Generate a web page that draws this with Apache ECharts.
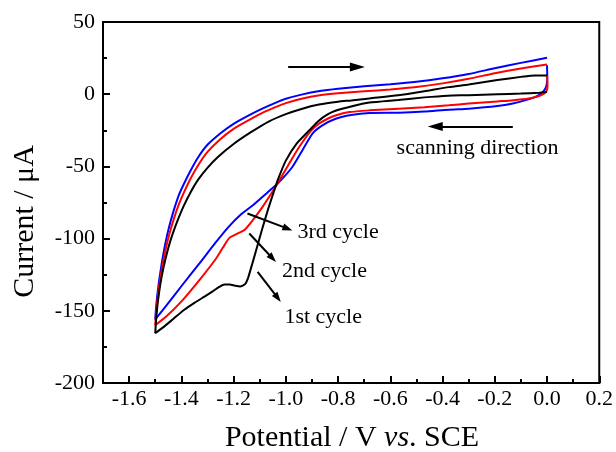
<!DOCTYPE html>
<html>
<head>
<meta charset="utf-8">
<script src="https://cdn.jsdelivr.net/npm/echarts@6/dist/echarts.min.js"></script>
<style>html,body{margin:0;padding:0;background:#fff}#c{width:616px;height:452px}</style>
</head>
<body>
<div id="c"></div>
<script>
// Potential (V vs. SCE), current (uA) pairs
const cycle1Cathodic = [[0,1.5],[-0.03,1],[-0.1,0.4],[-0.19,0],[-0.3,-0.7],[-0.38,-1],[-0.47,-2.2],[-0.57,-4],[-0.68,-5.8],[-0.75,-8.5],[-0.81,-11.5],[-0.84,-14],[-0.875,-18.5],[-0.91,-25],[-0.96,-34.5],[-1.0,-46],[-1.03,-59],[-1.045,-67],[-1.065,-78],[-1.09,-93],[-1.115,-109],[-1.135,-121.5],[-1.145,-127.5],[-1.156,-131.5],[-1.175,-133.2],[-1.195,-132.6],[-1.215,-131.8],[-1.235,-131.8],[-1.255,-133.5],[-1.28,-136.5],[-1.31,-140],[-1.35,-144.5],[-1.39,-149.5],[-1.43,-155.5],[-1.47,-161.5],[-1.5,-165.5]];
const cycle1Anodic = [[-1.5,-165.5],[-1.497,-157],[-1.492,-147],[-1.485,-137],[-1.475,-126],[-1.462,-115],[-1.447,-104.5],[-1.43,-95],[-1.41,-85.5],[-1.39,-77],[-1.365,-68],[-1.335,-59],[-1.30,-51],[-1.26,-43.5],[-1.2,-34.5],[-1.135,-26.5],[-1.064,-18.8],[-1.0,-13.8],[-0.94,-10.2],[-0.873,-7.2],[-0.8,-5.2],[-0.75,-4.3],[-0.68,-2.9],[-0.57,-0.8],[-0.47,2],[-0.376,4.9],[-0.3,6.7],[-0.19,9.8],[-0.1,12],[-0.045,13],[0,13]];
const cycle2Cathodic = [[0,13],[0.002,7],[0,3],[-0.01,0.5],[-0.03,-1.2],[-0.07,-3],[-0.135,-4.3],[-0.19,-5],[-0.3,-6.5],[-0.376,-7.7],[-0.47,-9],[-0.568,-10],[-0.68,-11.2],[-0.757,-12.4],[-0.81,-14.7],[-0.84,-17],[-0.873,-20.4],[-0.905,-25.5],[-0.949,-36.6],[-0.987,-48],[-1.032,-62],[-1.06,-70],[-1.089,-78],[-1.127,-87.3],[-1.16,-94.3],[-1.185,-96.5],[-1.216,-99.5],[-1.24,-106],[-1.267,-113.8],[-1.331,-128.8],[-1.395,-142.6],[-1.458,-154],[-1.5,-160]];
const cycle2Anodic = [[-1.5,-160],[-1.497,-152],[-1.492,-143],[-1.485,-133],[-1.475,-121.5],[-1.462,-109],[-1.447,-97.5],[-1.43,-87],[-1.41,-76.5],[-1.39,-68],[-1.365,-58.5],[-1.335,-49],[-1.30,-40],[-1.25,-31],[-1.2,-24],[-1.14,-17.8],[-1.09,-13],[-1.04,-9],[-1.0,-6.2],[-0.94,-3.2],[-0.87,-0.8],[-0.8,0.6],[-0.7,2],[-0.6,3.3],[-0.5,5],[-0.4,7.5],[-0.3,10.7],[-0.2,14.5],[-0.1,17.8],[0,20.6]];
const cycle3Cathodic = [[0,20],[0.001,12],[-0.001,7],[-0.008,3.5],[-0.02,1],[-0.04,-1.5],[-0.071,-3.6],[-0.135,-6.6],[-0.19,-8.2],[-0.3,-10],[-0.376,-10.7],[-0.47,-12],[-0.568,-12.8],[-0.68,-13],[-0.75,-14.4],[-0.809,-17],[-0.86,-21.6],[-0.898,-27.3],[-0.937,-39],[-0.975,-50.4],[-1.032,-62],[-1.07,-68],[-1.12,-76],[-1.17,-83],[-1.22,-92],[-1.27,-103],[-1.33,-117],[-1.40,-133],[-1.46,-147],[-1.5,-156]];
const cycle3Anodic = [[-1.5,-156],[-1.497,-148],[-1.492,-139],[-1.485,-129],[-1.475,-117],[-1.462,-104],[-1.447,-92],[-1.43,-81],[-1.41,-70],[-1.39,-62],[-1.365,-53],[-1.335,-43.5],[-1.30,-35],[-1.25,-27],[-1.2,-20.5],[-1.14,-14.5],[-1.09,-10],[-1.04,-6],[-1.0,-3.2],[-0.94,-0.3],[-0.87,2.2],[-0.8,3.8],[-0.7,5.5],[-0.6,6.9],[-0.5,8.6],[-0.4,11],[-0.3,14],[-0.2,18],[-0.1,21.7],[0,25.2]];

const xMajorTicks = [-1.6,-1.4,-1.2,-1.0,-0.8,-0.6,-0.4,-0.2,0.0,0.2];
const xMinorTicks = [-1.7,-1.5,-1.3,-1.1,-0.9,-0.7,-0.5,-0.3,-0.1,0.1];
const seriesNames = ['1st cycle','2nd cycle','3rd cycle'];
const seriesColors = ['#000000','#ff0000','#0000ff'];

// annotations: [x, y, text]
const textNotes = [[-0.266,-37.6,'scanning direction'],[-0.80,-95.4,'3rd cycle'],[-0.852,-122.3,'2nd cycle'],[-0.857,-154.1,'1st cycle']];
// arrows: [x0, y0, x1, y1]
const bigArrows = [[-0.991,18.9,-0.726,18.9],[-0.131,-22.3,-0.428,-22.3]];
const smallArrows = [[-1.147,-82.6,-0.993,-93.1],[-1.140,-96.5,-1.051,-113.6],[-1.108,-123,-1.031,-141.1]];

const FONT = 'Liberation Serif, Times New Roman, serif';
const chart = echarts.init(document.getElementById('c'), null, {renderer:'canvas'});

const loops = [cycle1Cathodic.concat(cycle1Anodic.slice(1)), cycle2Cathodic.concat(cycle2Anodic.slice(1)), cycle3Cathodic.concat(cycle3Anodic.slice(1))];

const series = loops.map((d,i)=>({
  name: seriesNames[i], type:'line', data:d, showSymbol:false, smooth:0.2,
  lineStyle:{color:seriesColors[i], width:2}, itemStyle:{color:seriesColors[i]},
  z: 5 - i, animation:false
}));

series.push({
  type:'line', data:[], xAxisIndex:0, yAxisIndex:0, silent:true, animation:false,
  markLine:{
    silent:true, animation:false,
    label:{show:false},
    lineStyle:{color:'#000', width:2, type:'solid'},
    data: bigArrows.map(a=>[
      {coord:[a[0],a[1]], symbol:'none'},
      {coord:[a[2],a[3]], symbol:'triangle', symbolSize:[9,15]}
    ]).concat(smallArrows.map(a=>[
      {coord:[a[0],a[1]], symbol:'none'},
      {coord:[a[2],a[3]], symbol:'triangle', symbolSize:[7,10]}
    ]))
  },
  markPoint:{
    silent:true, animation:false, symbol:'circle', symbolSize:0,
    label:{show:true, position:'inside', color:'#000', fontFamily:FONT, fontSize:22, formatter:'{b}'},
    data: textNotes.map(t=>({coord:[t[0],t[1]], name:t[2], value:0}))
  }
});

chart.setOption({
  backgroundColor:'#fff',
  animation:false,
  grid:{left:103, right:15, top:22, bottom:69, show:true, borderColor:'#000', borderWidth:2, backgroundColor:'transparent'},
  xAxis:[{
    type:'value', min:-1.7, max:0.2, position:'bottom',
    axisLine:{show:true, onZero:false, lineStyle:{color:'#000', width:2}},
    axisTick:{show:true, inside:true, length:7, customValues:xMajorTicks, lineStyle:{color:'#000', width:2}},
    axisLabel:{show:true, customValues:xMajorTicks, formatter:v=>v.toFixed(1), margin:5, color:'#000', fontFamily:FONT, fontSize:22},
    splitLine:{show:false}
  },{
    type:'value', min:-1.7, max:0.2, position:'bottom',
    axisLine:{show:false, onZero:false},
    axisTick:{show:true, inside:true, length:4, customValues:xMinorTicks, lineStyle:{color:'#000', width:2}},
    axisLabel:{show:false},
    splitLine:{show:false}
  }],
  yAxis:{
    type:'value', min:-200, max:50, interval:50,
    axisLine:{show:true, onZero:false, lineStyle:{color:'#000', width:2}},
    axisTick:{show:true, inside:true, length:7, lineStyle:{color:'#000', width:2}},
    minorTick:{show:true, splitNumber:2, length:4, lineStyle:{color:'#000', width:2}},
    axisLabel:{margin:8, color:'#000', fontFamily:FONT, fontSize:22},
    splitLine:{show:false}
  },
  graphic:[
    {type:'text', x:352, y:438, style:{
      text:'{n|Potential / V }{i|vs}{n|. SCE}',
      align:'center', verticalAlign:'middle',
      rich:{n:{fontFamily:FONT, fontSize:30, fill:'#000'}, i:{fontFamily:FONT, fontSize:30, fontStyle:'italic', fill:'#000'}}
    }},
    {type:'text', x:25, y:221.5, rotation:Math.PI/2, style:{
      text:'Current / μA', align:'center', verticalAlign:'middle',
      fontFamily:FONT, fontSize:30, fill:'#000'
    }}
  ],
  series: series
});
</script>
</body>
</html>
